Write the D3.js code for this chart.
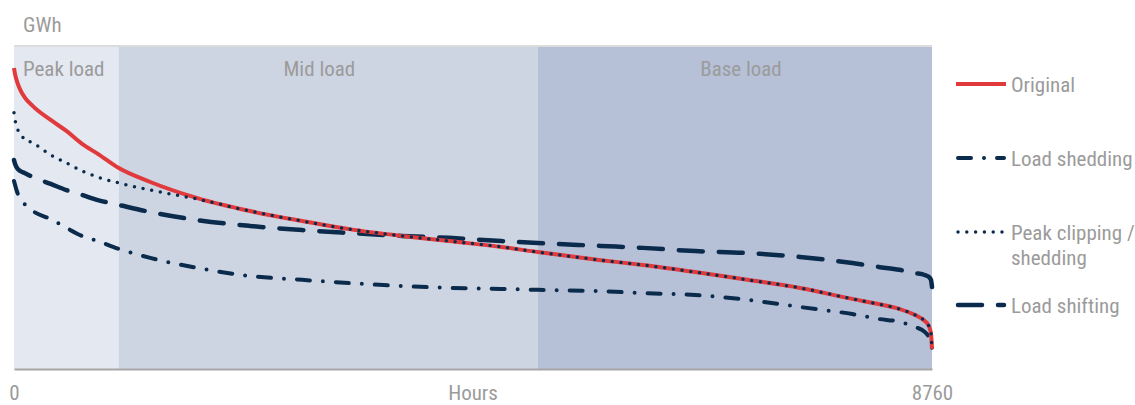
<!DOCTYPE html>
<html><head><meta charset="utf-8">
<script src="https://cdn.jsdelivr.net/npm/d3@7"></script>
<style>
body{margin:0;background:#fff;}
text{font-family:"Liberation Sans Narrow","Arial Narrow","Roboto Condensed","Liberation Sans",Arial,sans-serif;fill:#9b9b9b;font-size:21px;}
</style></head><body>
<svg id="chart" width="1135" height="405"></svg>
<script>
// ---- data ----
const hours = [0, 10, 30, 60, 100, 180, 350, 500, 650, 800, 1000, 1300, 1750, 2250, 2750, 3200, 3700, 4150, 4650, 5000, 5600, 6000, 6500, 7000, 7500, 8000, 8250, 8450, 8600, 8690, 8730, 8750, 8760];
const original = [93.2, 91.3, 88.9, 86.4, 84.2, 81.4, 77.1, 73.7, 69.7, 66.6, 62.2, 57.9, 52.9, 48.9, 45.8, 43.3, 41.2, 39.6, 37.8, 36.2, 33.7, 32.2, 30.0, 27.6, 25.1, 21.7, 20.1, 18.6, 16.7, 14.9, 13.3, 11.1, 6.2];
const peakClipping = [79.3, 77.1, 74.6, 72.8, 71.2, 70.0, 66.3, 63.8, 61.3, 59.4, 57.6, 55.4, 52.6, 48.9, 45.8, 43.3, 41.2, 39.6, 37.8, 36.2, 33.7, 32.2, 30.0, 27.6, 25.1, 21.7, 20.1, 18.6, 16.7, 14.9, 13.3, 11.1, 6.2];
const loadShifting = [64.7, 63.5, 62.2, 61.3, 60.7, 59.4, 57.3, 55.4, 53.9, 52.3, 50.8, 48.6, 46.1, 44.3, 43.0, 42.1, 41.2, 40.6, 39.6, 39.0, 38.1, 37.5, 36.5, 35.9, 34.7, 32.8, 31.6, 30.7, 29.7, 29.1, 28.5, 27.6, 25.4];
const loadShedding = [58.2, 57.0, 54.8, 52.6, 51.1, 48.9, 46.4, 43.7, 41.2, 39.6, 37.2, 34.4, 31.3, 28.8, 27.6, 26.6, 25.7, 25.1, 24.8, 24.5, 24.1, 23.5, 22.9, 21.4, 19.2, 17.0, 15.5, 14.6, 13.0, 11.5, 9.9, 8.4, 6.2];
const bandNames = ["Peak load", "Mid load", "Base load"];
const bandEdges = [0, 1000, 5000, 8760];
const xTickValues = [0, 8760];
const xTitle = "Hours";
const yTitle = "GWh";

// ---- layout ----
const svg = d3.select("#chart");
const L = 14, R = 932, T = 46, B = 369;
const x = d3.scaleLinear().domain([0, 8760]).range([L, R]);
const y = d3.scaleLinear().domain([0, 100]).range([B, T]);

const bandColors = ["#e4e8f1", "#ced5e2", "#b6c1d8"];
const labelShift = [0, -9, 6];
const bands = bandNames.map((n, i) => ({name: n, start: bandEdges[i], end: bandEdges[i + 1], color: bandColors[i], shift: labelShift[i]}));

svg.append("g").selectAll("rect").data(bands).join("rect")
  .attr("x", d => x(d.start)).attr("width", d => x(d.end) - x(d.start))
  .attr("y", T).attr("height", B - T)
  .attr("fill", d => d.color);

svg.append("line").attr("x1", L).attr("x2", R).attr("y1", T).attr("y2", T)
  .attr("stroke", "#dcdcdc").attr("stroke-width", 2);

svg.append("g").selectAll("text").data(bands).join("text")
  .attr("x", (d, i) => i === 0 ? x(d.start) + 9 : (x(d.start) + x(d.end)) / 2 + d.shift)
  .attr("y", 76)
  .attr("text-anchor", (d, i) => i === 0 ? "start" : "middle")
  .text(d => d.name);

svg.append("text").attr("x", 23).attr("y", 32).text(yTitle);

// axis
const ax = svg.append("g").attr("transform", `translate(0,${B})`)
  .call(d3.axisBottom(x).tickValues(xTickValues).tickSize(0).tickSizeOuter(0).tickPadding(16).tickFormat(d3.format("d")));
ax.select(".domain").attr("stroke", "#a6a6a6").attr("stroke-width", 2);
ax.selectAll("text").attr("font-size", null).attr("font-family", null).style("fill", "#9b9b9b");
svg.append("text").attr("x", (L + R) / 2).attr("y", 400).attr("text-anchor", "middle").text(xTitle);

// series
const navy = "#0b2b4c";
const series = [
  {name: ["Original"], values: original, color: "#e03a3c", width: 4, dash: null, order: 2},
  {name: ["Load shedding"], values: loadShedding, color: navy, width: 4, dash: "13 13 0 13", order: 0},
  {name: ["Peak clipping /", "shedding"], values: peakClipping, color: navy, width: 3.5, dash: "0 8.8", order: 3},
  {name: ["Load shifting"], values: loadShifting, color: navy, width: 4.5, dash: "24 16", order: 1}
];

const line = d3.line().x((d, i) => x(hours[i])).y(d => y(d)).curve(d3.curveMonotoneX);

svg.append("g").selectAll("path").data(series.slice().sort((a, b) => a.order - b.order)).join("path")
  .attr("d", d => line(d.values))
  .attr("fill", "none")
  .attr("stroke", d => d.color)
  .attr("stroke-width", d => d.width)
  .attr("stroke-linecap", d => d.dash ? "round" : "butt")
  .attr("stroke-dasharray", d => d.dash);

// legend
const legendY = [84, 158, 232, 305];
const lg = svg.append("g").selectAll("g").data(series).join("g")
  .attr("transform", (d, i) => `translate(0,${legendY[i]})`);
lg.append("line")
  .attr("x1", d => d.dash ? 958 : 956).attr("x2", d => d.dash ? 1004 : 1006)
  .attr("stroke", d => d.color).attr("stroke-width", d => d.width)
  .attr("stroke-linecap", d => d.dash ? "round" : "butt")
  .attr("stroke-dasharray", d => d.dash);
lg.append("text").attr("x", 1011).attr("y", 8)
  .selectAll("tspan").data(d => d.name).join("tspan")
  .attr("x", 1011).attr("dy", (d, i) => i === 0 ? 0 : 25)
  .text(d => d);
</script>
</body></html>
